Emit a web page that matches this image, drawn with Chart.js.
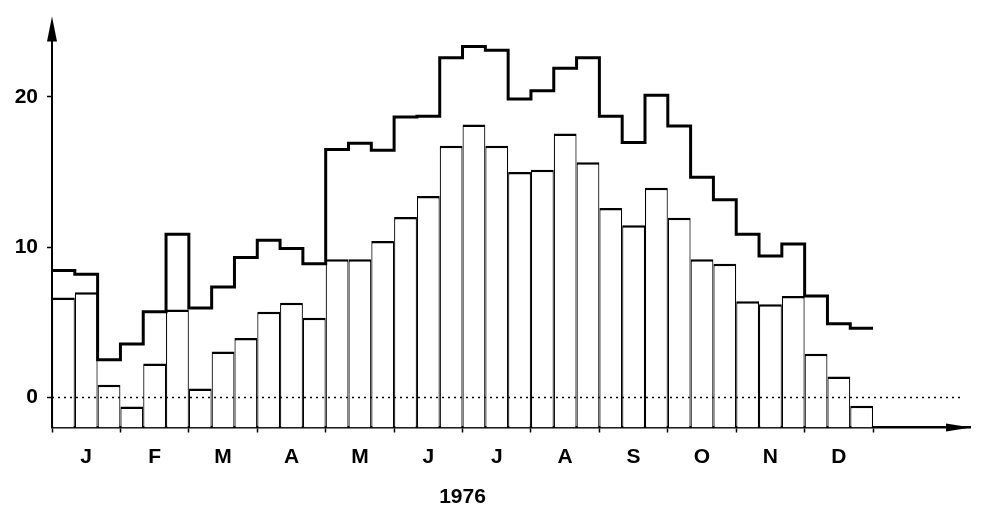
<!DOCTYPE html>
<html>
<head>
<meta charset="utf-8">
<script src="https://cdn.jsdelivr.net/npm/chart.js@4/dist/chart.umd.min.js"></script>
<style>
  html, body { margin: 0; padding: 0; background: #fff; }
  #wrap { position: relative; width: 982px; height: 509px; }
</style>
</head>
<body>
<div id="wrap"><canvas id="chart"></canvas></div>
<script>
// 36 décadas (3 por mes) del año
const MONTHS = ['J', 'F', 'M', 'A', 'M', 'J', 'J', 'A', 'S', 'O', 'N', 'D'];
const YEAR = '1976';
const Y_TICKS = [0, 10, 20];
const AXIS_MIN = -2;

// barras: valor por década
const BARS = [
    6.65, 7.0, 0.85,   -0.6, 2.25, 5.85,   0.6, 3.05, 3.95,   5.7, 6.3, 5.3,
    9.2, 9.2, 10.4,    12.0, 13.4, 16.75,  18.15, 16.75, 15.0, 15.15, 17.55, 15.65,
    12.6, 11.45, 13.95, 11.95, 9.2, 8.9,   6.4, 6.2, 6.75,    2.9, 1.4, -0.55
];

// escalera superior
const LINE = [
    8.45, 8.2, 2.5,    3.55, 5.7, 10.85,  5.95, 7.35, 9.3,   10.45, 9.9, 8.9,
    16.5, 16.9, 16.45, 18.65, 18.7, 22.6, 23.35, 23.1, 19.85, 20.4, 21.9, 22.6,
    18.7, 16.95, 20.1, 18.05, 14.65, 13.15, 10.85, 9.4, 10.2, 6.75, 4.9, 4.6
];

const FONT = '"Liberation Sans", Arial, sans-serif';
Chart.defaults.font.family = FONT;
Chart.defaults.color = '#000';

// cada barra centrada en su década, la escalera con un punto por borde
const barPoints = BARS.map((v, i) => ({ x: i + 0.5, y: v }));
const linePoints = LINE.map((v, i) => ({ x: i, y: v }));
linePoints.push({ x: LINE.length, y: LINE[LINE.length - 1] });

// línea de puntos en 0, flechas de los ejes y el año
const axisDecorations = {
    id: 'axisDecorations',
    afterDatasetsDraw(chart) {
        const { ctx, chartArea: { left, right, top, bottom }, scales: { x, y } } = chart;
        const zeroY = y.getPixelForValue(0);
        ctx.save();
        ctx.strokeStyle = '#000';
        ctx.lineWidth = 1.5;
        ctx.setLineDash([2, 4]);
        ctx.beginPath();
        ctx.moveTo(left, zeroY);
        ctx.lineTo(right - 7, zeroY);
        ctx.stroke();
        ctx.setLineDash([]);

        ctx.fillStyle = '#000';
        ctx.beginPath();
        ctx.moveTo(left, top - 5);
        ctx.lineTo(left - 5, top + 20);
        ctx.lineTo(left + 5, top + 20);
        ctx.closePath();
        ctx.fill();

        ctx.beginPath();
        ctx.moveTo(right + 1, bottom);
        ctx.lineTo(right - 24, bottom - 4);
        ctx.lineTo(right - 24, bottom + 4);
        ctx.closePath();
        ctx.fill();

        ctx.font = 'bold 21px ' + FONT;
        ctx.textAlign = 'center';
        ctx.textBaseline = 'middle';
        ctx.fillText(YEAR, x.getPixelForValue(BARS.length / 2), bottom + 70);
        ctx.restore();
    }
};

const ctx = document.getElementById('chart').getContext('2d');
const myChart = new Chart(ctx, {
    data: {
        datasets: [
            {
                type: 'line',
                data: linePoints,
                // en Chart.js 'before' = tramo horizontal y luego el salto
                stepped: 'before',
                borderColor: '#000',
                borderWidth: 3,
                pointRadius: 0,
                fill: false,
                order: 0
            },
            {
                type: 'bar',
                data: barPoints,
                base: AXIS_MIN,
                backgroundColor: '#fff',
                borderColor: '#000',
                borderWidth: { top: 2.5, left: 1.2, right: 1.2, bottom: 0 },
                borderSkipped: 'start',
                inflateAmount: 0,
                barPercentage: 1,
                categoryPercentage: 1,
                order: 1
            }
        ]
    },
    options: {
        responsive: true,
        maintainAspectRatio: false,
        animation: false,
        events: [],
        layout: { padding: { top: 15, right: 12, left: 0, bottom: 0 } },
        plugins: {
            legend: { display: false },
            tooltip: { enabled: false }
        },
        scales: {
            x: {
                type: 'linear',
                min: 0,
                max: 40.25,
                offset: false,
                z: 1,
                afterFit: (scale) => { scale.height = 81.5; },
                afterBuildTicks: (scale) => {
                    const ticks = [];
                    for (let k = 0; k <= MONTHS.length * 2; k++) ticks.push({ value: k * 1.5 });
                    scale.ticks = ticks;
                },
                border: { display: true, color: '#000', width: 2.5 },
                grid: {
                    offset: false,
                    drawOnChartArea: false,
                    drawTicks: true,
                    tickLength: 5,
                    tickWidth: 1.5,
                    tickColor: (c) => (c.tick && c.tick.value % 3 === 0 ? '#000' : 'rgba(0,0,0,0)')
                },
                ticks: {
                    autoSkip: false,
                    maxRotation: 0,
                    padding: 12,
                    font: { size: 21, weight: 'bold' },
                    callback: (value) => (value % 3 === 1.5 ? MONTHS[(value - 1.5) / 3] : '')
                }
            },
            y: {
                type: 'linear',
                min: AXIS_MIN,
                max: 25,
                z: 1,
                afterFit: (scale) => { scale.width = 52; },
                afterBuildTicks: (scale) => {
                    scale.ticks = Y_TICKS.map(v => ({ value: v }));
                },
                border: { display: true, color: '#000', width: 2 },
                grid: {
                    drawOnChartArea: false,
                    drawTicks: true,
                    tickLength: 5,
                    tickWidth: 1.5,
                    tickColor: '#000'
                },
                ticks: {
                    padding: 9,
                    font: { size: 21, weight: 'bold' }
                }
            }
        }
    },
    plugins: [axisDecorations]
});
</script>
</body>
</html>
